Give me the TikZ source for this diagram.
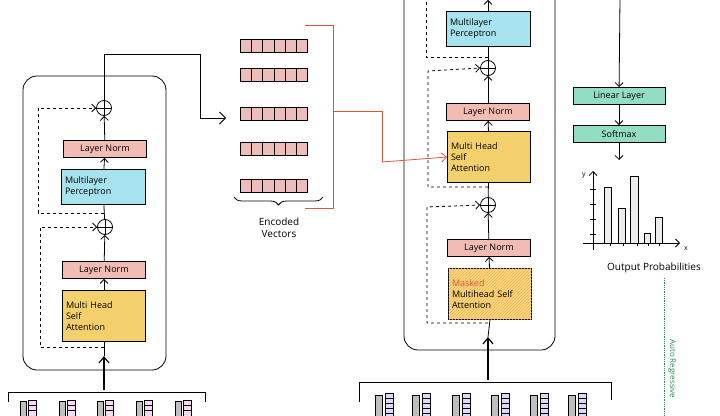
\documentclass[tikz,border=0pt]{standalone}
\usepackage{fontspec}
\setmainfont{Open Sans}
\usetikzlibrary{arrows.meta,patterns,decorations.pathreplacing}
\definecolor{lnpink}{HTML}{F2BCB2}
\definecolor{mlpblue}{HTML}{A6E3EE}
\definecolor{attyel}{HTML}{F4D06C}
\definecolor{lingreen}{HTML}{93DEC2}
\definecolor{vecpink}{HTML}{EFBCBC}
\definecolor{tokpink}{HTML}{F6DAF2}
\definecolor{toklav}{HTML}{DCDAF6}
\definecolor{arred}{HTML}{E0553A}
\definecolor{argreen}{HTML}{2E8B57}
\tikzset{
  blk/.style={draw, thick, rectangle, font=\small, inner sep=2pt},
  ln/.style={blk, fill=lnpink, minimum width=83pt, minimum height=17pt},
  mlp/.style={blk, fill=mlpblue, minimum width=84pt, minimum height=35pt, align=left, text width=76pt},
  att/.style={blk, fill=attyel, minimum width=83pt, minimum height=51pt, align=left, text width=76pt},
  lin/.style={blk, fill=lingreen, minimum width=92pt, minimum height=17pt},
  plus/.style={circle, draw, thick, minimum size=15pt, inner sep=0pt},
  skip/.style={thick, dashed, -{Straight Barb[length=4pt]}},
  flow/.style={thick, -{Straight Barb[length=4pt]}},
}
\newcommand{\pluslines}[1]{\draw[thick] (#1.north) -- (#1.south) (#1.west) -- (#1.east);}
\begin{document}
\begin{tikzpicture}[x=1pt,y=-1pt]
  \useasboundingbox (0,0) rectangle (720,415);
  \begin{scope}
  \clip (0,0) rectangle (720,415);

  % encoder
  \draw[thick, rounded corners=14pt] (23,76) rectangle (166,370);
  \node[att] (eatt) at (104,316) {Multi Head\\Self\\Attention};
  \node[ln] (eln1) at (104,270) {Layer Norm};
  \node[plus] (ep1) at (105,227) {}; \pluslines{ep1}
  \node[mlp] (emlp) at (103,187) {Multilayer\\Perceptron};
  \node[ln] (eln2) at (105,149) {Layer Norm};
  \node[plus] (ep2) at (104,108) {}; \pluslines{ep2}
  \coordinate (ein) at (104,390);
  \coordinate (ebot) at (104,347);
  \coordinate (emid) at (104,213);
  \draw[very thick, -{Straight Barb[length=6pt,width=10pt]}] (ein) -- (104,356);
  \draw[thick] (104,356) -- (eatt.south);
  \draw[flow] (eatt) -- (eln1);
  \draw[flow] (eln1) -- (ep1);
  \draw[thick] (ep1) -- (emlp);
  \draw[flow] (emlp) -- (eln2);
  \draw[flow] (eln2) -- (ep2);
  \draw[skip] (ebot) -| (40,227) -- (ep1.west);
  \draw[skip] (emid) -| (38,108) -- (ep2.west);
  \coordinate (etop) at (104,54);
  \coordinate (ecor) at (200,54);
  \coordinate (ecor2) at (200,118);
  \draw[thick] (ep2) -- (etop) -- (ecor) -- (ecor2);
  \draw[thick, -{Straight Barb[length=6pt,width=12pt]}] (ecor2) -- (226,118);

  % encoder tokens
  \draw[thick] (8,402) -- (8,392) -- (205,392) -- (205,402);
  \foreach \x in {20,59,97,136,175}{
    \draw[fill=gray!50] (\x,401) rectangle ++(6,16);
    \draw[fill=tokpink] (\x+8,400) rectangle ++(8,17);
    \draw (\x+8,405) -- ++(8,0) (\x+8,410) -- ++(8,0);
  }

  % encoded vectors
  \foreach \y in {39,68,107,142,179}{
    \foreach \i in {0,...,5}
      \draw[thick, fill=vecpink] (240+11.3*\i,\y) rectangle ++(11.3,13);
  }
  \draw[thick, decorate, decoration={brace, amplitude=8pt}] (323,197) -- (234,197);
  \node[font=\normalsize, align=center] (encv) at (279,228) {Encoded\\Vectors};
  \draw[arred, thick] (305,25) -- (333,25) -- (333,208) -- (305,208);
  \coordinate (rmid) at (333,111);
  \coordinate (rcor) at (382,111);
  \draw[arred, thick] (rmid) -- (rcor) -- (382,162);

  % decoder
  \draw[thick, rounded corners=14pt] (404,-20) rectangle (555,350);
  \node[ln] (dln0) at (488,-9) {};
  \node[mlp] (dmlp) at (488,29) {Multilayer\\Perceptron};
  \node[plus] (dp2) at (488,68) {}; \pluslines{dp2}
  \node[ln] (dln2) at (488,112) {Layer Norm};
  \node[att] (datt) at (489,157) {Multi Head\\Self\\Attention};
  \node[plus] (dp1) at (488,205) {}; \pluslines{dp1}
  \node[ln] (dln1) at (489,248) {Layer Norm};
  \node[att, fill=attyel!80, postaction={pattern=north east lines, pattern color=attyel!60!orange}] (dmatt) at (490,294)
    {\textcolor{arred}{Masked}\\Multihead Self\\Attention};
  \draw[arred, thick, -{Straight Barb[length=5pt,width=9pt]}] (382,162) -- (datt.west);
  \coordinate (din) at (488,380);
  \draw[very thick, -{Straight Barb[length=6pt,width=10pt]}] (din) -- (488,337);
  \draw[thick] (488,337) -- (dmatt.south);
  \draw[flow] (dmatt) -- (dln1);
  \draw[flow] (dln1) -- (dp1);
  \draw[thick] (dp1) -- (datt);
  \draw[flow] (datt) -- (dln2);
  \draw[flow] (dln2) -- (dp2);
  \draw[thick] (dp2) -- (dmlp);
  \draw[flow] (dmlp) -- (dln0);
  \draw[skip] (488,323) -| (427,207) -- (dp1.west);
  \draw[skip] (488,187) -| (428,71) -- (dp2.west);
  \draw[thick, dashed] (488,57) -| (426,-5);

  % decoder tokens
  \draw[thick] (359,402) -- (359,382) -- (611,382) -- (611,400);
  \foreach \x in {375,412,452,491,530,568}{
    \draw[fill=gray!50] (\x,395) rectangle ++(7,22);
    \draw[fill=toklav] (\x+10,393) rectangle ++(8,24);
    \foreach \k in {398,403,408,413}
      \draw (\x+10,\k) -- ++(8,0);
  }

  % output head
  \coordinate (otop) at (620,-2);
  \node[lin] (lin) at (619,96) {Linear Layer};
  \node[lin] (smax) at (619,134) {Softmax};
  \coordinate (sout) at (619,160);
  \draw[flow] (otop) -- (lin);
  \draw[flow] (lin) -- (smax);
  \draw[flow] (smax) -- (sout);

  % output probabilities
  \draw[thick, -{Straight Barb[length=4pt]}] (593,250) -- (593,171);
  \draw[thick, -{Straight Barb[length=4pt]}] (583,243) -- (680,243);
  \node[font=\scriptsize] (ylab) at (584,175) {y};
  \node[font=\scriptsize] (xlab) at (686,249) {x};
  \foreach \t in {189,204,219,234} \draw[thick] (590,\t) -- (596,\t);
  \foreach \t in {610,623,637,648,659} \draw[thick] (\t,240) -- (\t,246);
  \foreach \a/\b/\h in {604/611/187,618/625/208,630/638/176,644/650/233,655/662/217}
    \draw[thick, fill=gray!15] (\a,243) rectangle (\b,\h);
  \node[font=\normalsize] (oprob) at (654,268) {Output Probabilities};
  \draw[argreen, thick, densely dotted] (664,278) -- (664,420);
  \node[argreen, rotate=-90, anchor=west, font=\footnotesize, inner sep=1pt] (autor) at (672,338) {Auto Regressive};
  \end{scope}
\end{tikzpicture}
\end{document}
